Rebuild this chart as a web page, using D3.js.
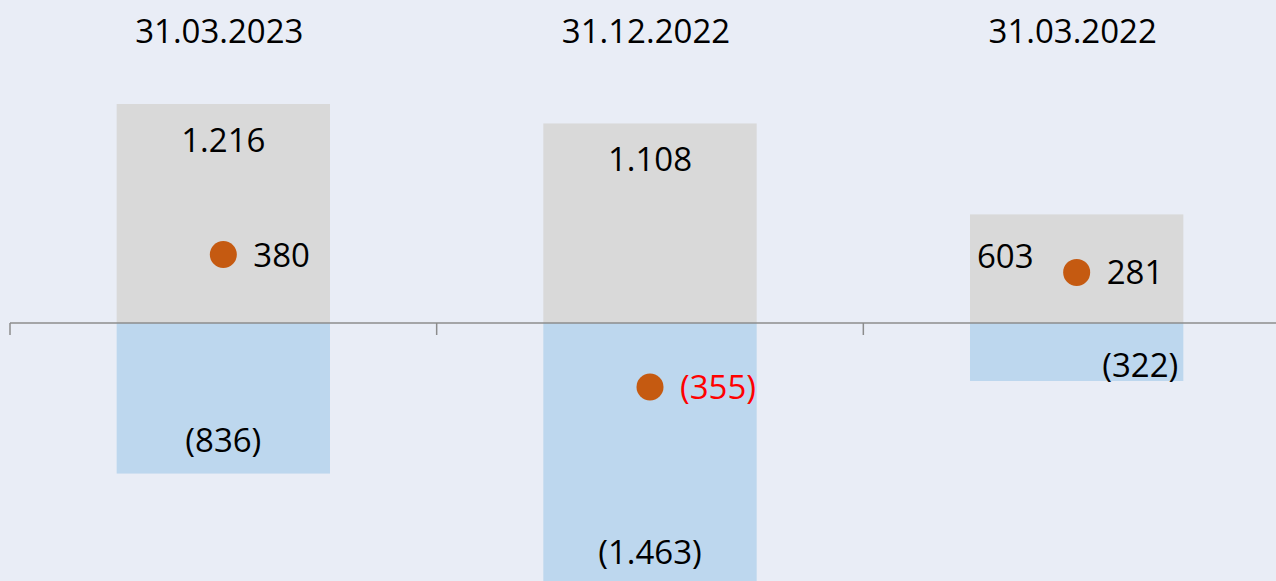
<!DOCTYPE html>
<html>
<head>
<meta charset="utf-8">
<script src="https://cdn.jsdelivr.net/npm/d3@7"></script>
<style>
  body { margin: 0; background: #E9EDF6; }
  svg { display: block; font-family: 'Open Sans', sans-serif; }
</style>
</head>
<body>
<script>
// data
const dates = ['31.03.2023', '31.12.2022', '31.03.2022']
const positives = [1216, 1108, 603]
const negatives = [-836, -1463, -322]
const net = [380, -355, 281]

const fmt = v => {
  const s = d3.format(',')(Math.abs(v)).replace(/,/g, '.')
  return v < 0 ? `(${s})` : s
}

// setup the plot area
const w = 1276
const h = 581
const zeroY = 323

const svg = d3.select('body')
  .append('svg')
  .attr('width', w)
  .attr('height', h)

svg.append('rect')
  .attr('width', w)
  .attr('height', h)
  .attr('fill', '#E9EDF6')

const xScale = d3.scaleBand()
  .domain(dates)
  .range([10, 1290])
  .paddingInner(0.5)
  .paddingOuter(0.25)

const step = xScale.step()

const yScale = d3.scaleLinear()
  .domain([0, 1216])
  .range([zeroY, 104])

const cx = d => xScale(d) + xScale.bandwidth() / 2

// bars
svg.selectAll('rect.pos')
  .data(dates)
  .enter()
  .append('rect')
  .attr('class', 'pos')
  .attr('x', d => xScale(d))
  .attr('width', xScale.bandwidth())
  .attr('y', (d, i) => yScale(positives[i]))
  .attr('height', (d, i) => yScale(0) - yScale(positives[i]))
  .attr('fill', '#D9D9D9')

svg.selectAll('rect.neg')
  .data(dates)
  .enter()
  .append('rect')
  .attr('class', 'neg')
  .attr('x', d => xScale(d))
  .attr('width', xScale.bandwidth())
  .attr('y', yScale(0))
  .attr('height', (d, i) => yScale(negatives[i]) - yScale(0))
  .attr('fill', '#BDD7EE')

// axis line with ticks at the band edges
const axisG = svg.append('g')
axisG.append('line')
  .attr('x1', 10)
  .attr('x2', w)
  .attr('y1', zeroY)
  .attr('y2', zeroY)
  .style('stroke', '#8C8C8C')
  .style('stroke-width', '1.5px')

axisG.selectAll('line.tick')
  .data(dates)
  .enter()
  .append('line')
  .attr('class', 'tick')
  .attr('x1', d => xScale(d) - step * 0.25)
  .attr('x2', d => xScale(d) - step * 0.25)
  .attr('y1', zeroY)
  .attr('y2', zeroY + 12)
  .style('stroke', '#8C8C8C')
  .style('stroke-width', '1.5px')

// date headers
svg.selectAll('text.date')
  .data(dates)
  .enter()
  .append('text')
  .attr('class', 'date')
  .attr('x', d => cx(d) - 4)
  .attr('y', 43)
  .attr('text-anchor', 'middle')
  .attr('font-size', 33)
  .attr('fill', '#000')
  .text(d => d)

// positive labels (the third one is nudged left like in the original)
svg.selectAll('text.posLabel')
  .data(dates)
  .enter()
  .append('text')
  .attr('class', 'posLabel')
  .attr('x', (d, i) => i === 2 ? xScale(d) + 7 : cx(d))
  .attr('y', (d, i) => yScale(positives[i]) + (i === 2 ? 54 : 48))
  .attr('text-anchor', (d, i) => i === 2 ? 'start' : 'middle')
  .attr('font-size', 33)
  .attr('fill', '#000')
  .text((d, i) => fmt(positives[i]))

// negative labels
svg.selectAll('text.negLabel')
  .data(dates)
  .enter()
  .append('text')
  .attr('class', 'negLabel')
  .attr('x', (d, i) => i === 2 ? xScale(d) + xScale.bandwidth() - 5 : cx(d))
  .attr('y', (d, i) => yScale(negatives[i]) - (i === 2 ? 4 : 22))
  .attr('text-anchor', (d, i) => i === 2 ? 'end' : 'middle')
  .attr('font-size', 33)
  .attr('fill', '#000')
  .text((d, i) => fmt(negatives[i]))

// net dots
svg.selectAll('circle.net')
  .data(dates)
  .enter()
  .append('circle')
  .attr('class', 'net')
  .attr('cx', d => cx(d))
  .attr('cy', (d, i) => yScale(net[i]))
  .attr('r', 13.5)
  .attr('fill', '#C55A11')

svg.selectAll('text.netLabel')
  .data(dates)
  .enter()
  .append('text')
  .attr('class', 'netLabel')
  .attr('x', d => cx(d) + 30)
  .attr('y', (d, i) => yScale(net[i]) + 12)
  .attr('font-size', 33)
  .attr('fill', (d, i) => net[i] < 0 ? '#FF0000' : '#000')
  .text((d, i) => fmt(net[i]))
</script>
</body>
</html>
